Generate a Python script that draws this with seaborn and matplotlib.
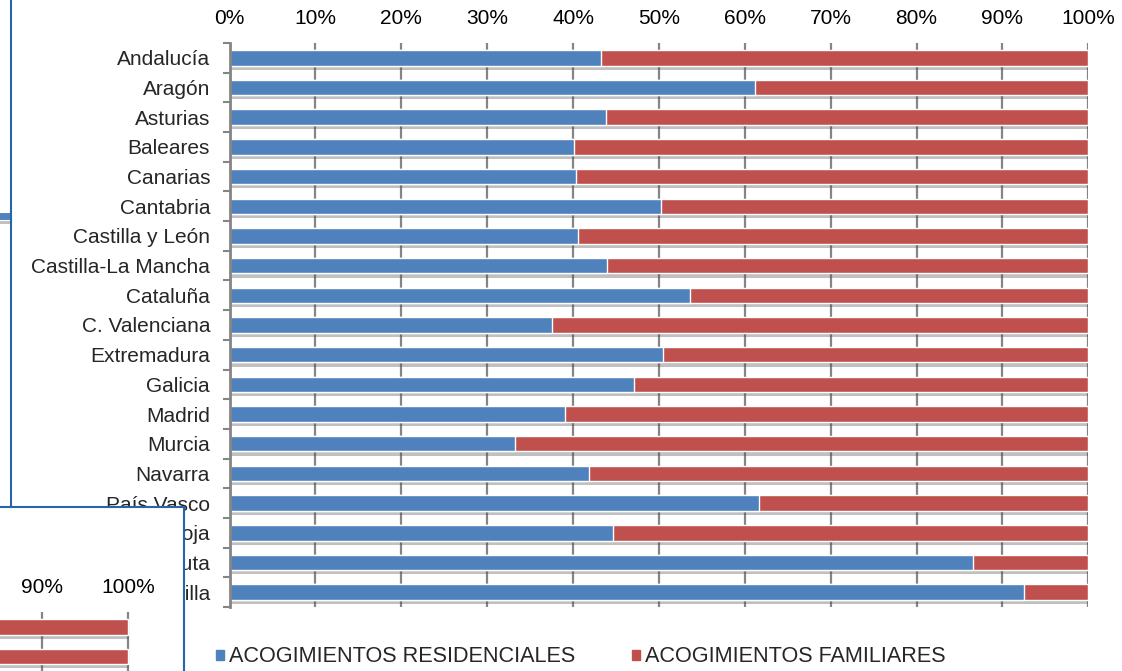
import numpy as np
import pandas as pd
import matplotlib
matplotlib.use("Agg")
import matplotlib.pyplot as plt
import matplotlib.patheffects as pe
from matplotlib.patches import Patch, Rectangle
from matplotlib.lines import Line2D
from matplotlib.ticker import PercentFormatter
import seaborn as sns

# datos (% sobre el total de acogimientos)
comunidades = ["Andalucía", "Aragón", "Asturias", "Baleares", "Canarias", "Cantabria",
               "Castilla y León", "Castilla-La Mancha", "Cataluña", "C. Valenciana",
               "Extremadura", "Galicia", "Madrid", "Murcia", "Navarra", "País Vasco",
               "La Rioja", "Ceuta", "Melilla"]
residenciales = [43.2, 61.2, 43.8, 40.1, 40.4, 50.3, 40.6, 44.0, 53.6, 37.6,
                 50.5, 47.1, 39.1, 33.2, 41.9, 61.7, 44.7, 86.6, 92.5]
familiares = [56.8, 38.8, 56.2, 59.9, 59.6, 49.7, 59.4, 56.0, 46.4, 62.4,
              49.5, 52.9, 60.9, 66.8, 58.1, 38.3, 55.3, 13.4, 7.5]
xticks = [0, 10, 20, 30, 40, 50, 60, 70, 80, 90, 100]
leyenda = ["ACOGIMIENTOS RESIDENCIALES", "ACOGIMIENTOS FAMILIARES"]

df = pd.DataFrame({"comunidad": comunidades, "res": residenciales, "fam": familiares})
df["total"] = df["res"] + df["fam"]

BLUE = "#4F81BD"
RED = "#C0504D"
GRID = "#858585"
FRAME = "#2566A8"

sns.set_style("white")
plt.rcParams["font.family"] = ["Liberation Sans", "DejaVu Sans"]

W, H = 1122, 671
fig = plt.figure(figsize=(W / 100, H / 100), dpi=100)
fig.patch.set_facecolor("white")

shadow = [pe.SimplePatchShadow(offset=(0.8, -3), shadow_rgbFace="0.3", alpha=0.35),
          pe.Normal()]


def draw_chart(ax):
    # barra completa en rojo y la parte residencial encima en azul
    sns.barplot(data=df, y="comunidad", x="total", color=RED, saturation=1,
                width=0.52, orient="h", errorbar=None, edgecolor="white",
                linewidth=1, ax=ax)
    for p in ax.patches:
        p.set_path_effects(shadow)
    sns.barplot(data=df, y="comunidad", x="res", color=BLUE, saturation=1,
                width=0.52, orient="h", errorbar=None, edgecolor="white",
                linewidth=1, ax=ax)
    ax.set_xticks(xticks)
    ax.xaxis.set_major_formatter(PercentFormatter(decimals=0))
    ax.xaxis.tick_top()
    ax.grid(axis="x", color=GRID, lw=1.6)
    ax.set_axisbelow(True)
    ax.tick_params(axis="x", length=0, pad=11, labelsize=15, colors="black")
    ax.set_xlabel("")
    ax.set_ylabel("")
    for s in ["top", "right", "bottom"]:
        ax.spines[s].set_visible(False)


# gráfico principal
ax = fig.add_axes([229.5 / W, 1 - 607 / H, 858.8 / W, 564 / H])
draw_chart(ax)
ax.set_xlim(0, 100)
ax.set_ylim(len(comunidades) - 0.5, -0.5)
ax.set_yticks(np.arange(-0.5, len(comunidades)), minor=True)
ax.tick_params(axis="y", which="major", length=0, pad=14, labelsize=15)
ax.tick_params(axis="y", which="minor", left=True, length=5, width=1.5, color=GRID)
ax.spines["left"].set_color(GRID)
ax.spines["left"].set_linewidth(2)

# restos de la captura: marco azul a la izquierda y recuadro superpuesto
fig.add_artist(Line2D([10.5 / W, 10.5 / W], [1 - 506.7 / H, 1.01], transform=fig.transFigure,
                      color=FRAME, lw=1.5))
frag = Rectangle((-0.01, 1 - 219.5 / H), 10 / W + 0.01, 8 / H, transform=fig.transFigure,
                 fc=BLUE, ec="white", lw=0.8)
frag.set_path_effects(shadow)
fig.add_artist(frag)
box = Rectangle((-0.01, -0.01), 184 / W + 0.01, (H - 506.7) / H + 0.01,
                transform=fig.transFigure, fc="white", ec=FRAME, lw=1.5, zorder=2)
fig.add_artist(box)

ax2 = fig.add_axes([0, 0, 182 / W, 59 / H])
ax2.set_zorder(3)
draw_chart(ax2)
ax2.set_xlim(85.1, 106.3)
ax2.set_ylim(1.49, -0.5)
ax2.set_yticks([])
ax2.spines["left"].set_visible(False)

# leyenda
handles = [Patch(color=BLUE), Patch(color=RED)]
fig.legend(handles, leyenda, loc="center left", bbox_to_anchor=(216 / W, 1 - 657 / H),
           ncol=2, frameon=False, handlelength=0.36, handleheight=0.36,
           handletextpad=0.25, columnspacing=2.6, borderpad=0, borderaxespad=0,
           prop={"family": ["Liberation Sans"], "size": 15.6})

fig.savefig("out.png", dpi=100)
